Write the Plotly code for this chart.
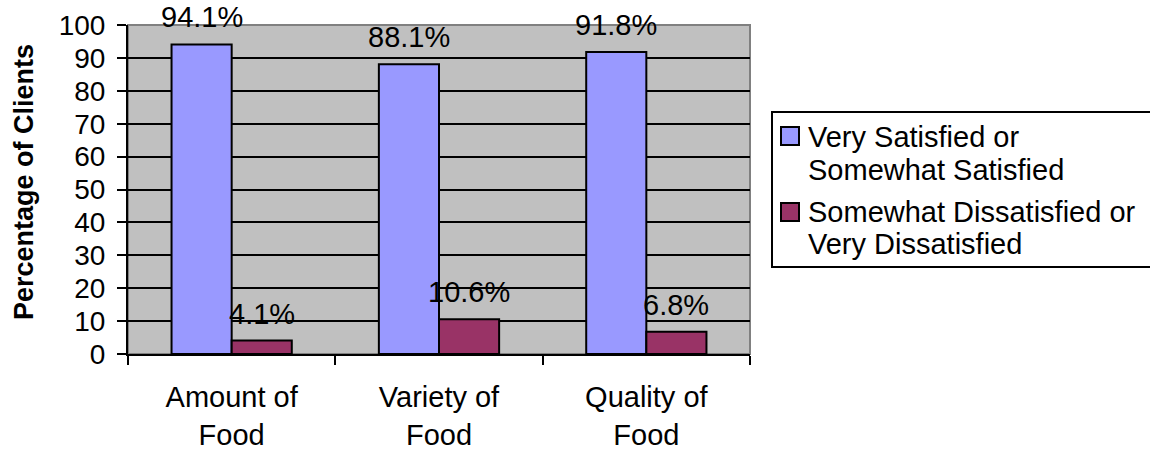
import plotly.graph_objects as go

# Survey results: share of clients by satisfaction with the food received
categories = ["Amount of<br>Food", "Variety of<br>Food", "Quality of<br>Food"]
satisfied = [94.1, 88.1, 91.8]
dissatisfied = [4.1, 10.6, 6.8]
series_names = [
    ["Very Satisfied or", "Somewhat Satisfied"],
    ["Somewhat Dissatisfied or", "Very Dissatisfied"],
]
series_colors = ["#9999FF", "#993366"]
y_ticks = list(range(0, 101, 10))

FONT = "Liberation Sans, Arial, sans-serif"
W, H = 1150, 452
L, R, T, B = 128, 750, 25, 354  # plot area in pixels


def fx(p):
    return (p - L) / (R - L)


def fy(p):
    return (B - p) / (B - T)


fig = go.Figure()
for vals, names, color in zip([satisfied, dissatisfied], series_names, series_colors):
    fig.add_trace(go.Bar(
        x=categories, y=vals, name=" ".join(names),
        marker=dict(color=color, line=dict(color="black", width=2)),
        showlegend=False,
    ))

# value labels above each bar
bar_px = (R - L) / len(categories) * (1 - 0.42) / 2
annotations = []
for k, vals in enumerate([satisfied, dissatisfied]):
    shift = -bar_px / 2 if k == 0 else bar_px / 2
    for c, v in zip(categories, vals):
        annotations.append(dict(
            x=c, y=v, xref="x", yref="y", text=f"{v}%", showarrow=False,
            xanchor="center", yanchor="bottom", xshift=shift, yshift=10,
            borderpad=0,
            font=dict(size=29, color="black", family=FONT),
        ))

# axis title
annotations.append(dict(
    x=fx(24), y=fy(182), xref="paper", yref="paper", text="<b>Percentage of Clients</b>",
    textangle=-90, showarrow=False, xanchor="center", yanchor="middle",
    font=dict(size=27, color="black", family=FONT),
))

shapes = [
    # plot frame
    dict(type="rect", xref="paper", yref="paper", x0=0, x1=1, y0=0, y1=1,
         line=dict(color="#808080", width=2), layer="between"),
    # legend box (runs past the right edge of the figure)
    dict(type="rect", xref="paper", yref="paper", x0=fx(772), x1=fx(1220),
         y0=fy(267), y1=fy(112), line=dict(color="black", width=2),
         fillcolor="white"),
]

# legend entries
sq_tops = [127, 203]
line_centers = [[137, 170], [212, 244]]
for names, color, top, centers in zip(series_names, series_colors, sq_tops, line_centers):
    shapes.append(dict(type="rect", xref="paper", yref="paper",
                       x0=fx(781), x1=fx(799), y0=fy(top + 18), y1=fy(top),
                       fillcolor=color, line=dict(color="black", width=2)))
    for txt, cy in zip(names, centers):
        annotations.append(dict(
            x=fx(806), y=fy(cy), xref="paper", yref="paper", text=txt,
            showarrow=False, xanchor="left", yanchor="middle",
            font=dict(size=29, color="black", family=FONT),
        ))

fig.update_layout(
    width=W, height=H,
    margin=dict(l=L, r=W - R, t=T, b=H - B),
    paper_bgcolor="white", plot_bgcolor="#C0C0C0",
    barmode="group", bargap=0.42, bargroupgap=0,
    font=dict(family=FONT, color="black"),
    annotations=annotations, shapes=shapes,
    showlegend=False,
)
fig.update_xaxes(
    type="category", tickson="boundaries", ticks="outside", ticklen=9,
    tickwidth=2, tickcolor="black", showline=True, linecolor="black",
    linewidth=2, showgrid=False, tickfont=dict(size=29, color="black"),
    ticklabelstandoff=16, automargin=False,
)
fig.update_yaxes(
    range=[0, 100], tickvals=y_ticks, ticks="outside", ticklen=9,
    tickwidth=2, tickcolor="black", showline=True, linecolor="black",
    linewidth=2, showgrid=True, gridcolor="black", gridwidth=2,
    zeroline=False, tickfont=dict(size=28, color="black"),
    ticklabelstandoff=6, automargin=False,
)

fig.write_html("out.html")
